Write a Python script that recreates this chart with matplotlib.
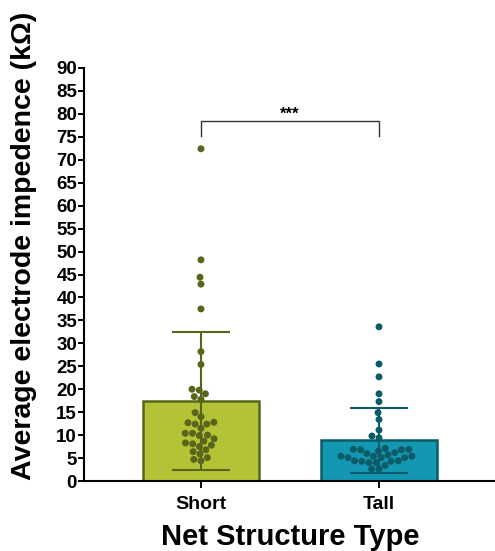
import numpy as np
import matplotlib
matplotlib.use("Agg")
import matplotlib.pyplot as plt
import seaborn as sns

# impedance per subject (kOhm)
short_vals = [72.4, 48.2, 44.4, 42.9, 37.5, 28.2, 25.4,
              19.8, 17.8, 14.9, 12.4, 9.9, 8.3, 6.8, 5.1,
              19.0, 20.0, 18.4, 12.7, 10.0, 8.1, 6.4, 4.7,
              14.0, 12.4, 10.4, 7.8, 5.9, 4.4,
              11.5, 9.2, 7.5, 12.8, 10.4, 8.7]
tall_vals = [33.6, 25.5, 22.7, 19.0, 17.3, 14.9, 13.4,
             9.8, 11.1, 9.4,
             4.4, 6.0, 4.4, 4.3, 6.8, 5.1, 2.6, 6.8, 5.1, 6.5,
             5.1, 3.4, 5.7, 4.0, 6.9, 5.4, 2.6, 7.1, 5.4, 4.0,
             5.4, 6.9, 4.3, 6.2]
groups = ["Short", "Tall"]
yticks = list(range(0, 95, 5))

fill_colors = ["#b4c236", "#1497b2"]
dark_colors = ["#5a651c", "#0c5c68"]

plt.rcParams['font.family'] = ['Liberation Sans', 'DejaVu Sans']
plt.rcParams['font.weight'] = 'bold'

fig = plt.figure(figsize=(4.95, 5.51), dpi=100)
ax = fig.add_axes([84 / 495, 1 - 481 / 551, 410 / 495, 413 / 551])

data = [short_vals, tall_vals]
means = [np.mean(d) for d in data]
sds = [np.std(d, ddof=1) for d in data]
xpos = np.arange(len(groups))

for i in range(len(groups)):
    ax.bar(xpos[i], means[i], width=0.65, color=fill_colors[i],
           edgecolor=dark_colors[i], linewidth=1.8, zorder=1)
    ax.errorbar(xpos[i], means[i], yerr=sds[i], color=dark_colors[i],
                capsize=21, elinewidth=1.5, capthick=1.5, zorder=2)

all_y = short_vals + tall_vals
all_x = ["Short"] * len(short_vals) + ["Tall"] * len(tall_vals)
sns.swarmplot(x=all_x, y=all_y, hue=all_x, palette=dark_colors, size=5,
              legend=False, ax=ax, zorder=3, linewidth=0)

# significance bracket
ax.plot([0, 0, 1, 1], [75.2, 78.4, 78.4, 75.2], color="#333333", lw=1.0,
        zorder=4)
ax.text(0.5, 78.9, "***", ha="center", va="baseline", fontsize=12,
        fontweight="bold")

ax.set_xlim(-0.657, 1.646)
ax.set_ylim(0, 90)
ax.set_yticks(yticks)
ax.set_xticks(xpos)
ax.set_xticklabels(groups, fontsize=14, fontweight="bold")
ax.tick_params(axis="y", labelsize=13.5, length=4, width=1.4, pad=1)
ax.tick_params(axis="x", length=5, width=1.4, pad=6)
for lab in ax.get_yticklabels():
    lab.set_fontweight("bold")

for s in ["top", "right"]:
    ax.spines[s].set_visible(False)
for s in ["left", "bottom"]:
    ax.spines[s].set_linewidth(1.5)
    ax.spines[s].set_color("black")

ax.set_xlabel("Net Structure Type", fontsize=21, fontweight="bold")
ax.xaxis.label.set_va("center")
ax.xaxis.set_label_coords((290 - 84) / 410, (481 - 537) / 413)
ax.set_ylabel("Average electrode impedence (k\u03a9)", fontsize=20.5,
              fontweight="bold")
ax.yaxis.label.set_va("center")
ax.yaxis.set_label_coords((24 - 84) / 410, (481 - 246) / 413)

fig.savefig("out.png", dpi=100)
